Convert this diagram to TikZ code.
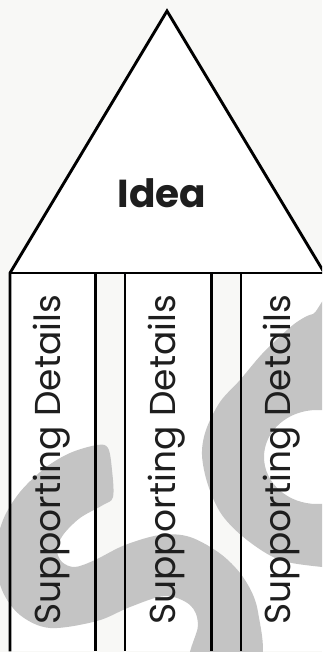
\documentclass[tikz,border=0pt]{standalone}
\usepackage{fontspec}
\setmainfont{Poppins}
\definecolor{bg}{HTML}{F8F8F6}
\definecolor{wm}{HTML}{C4C4C4}
\definecolor{ink}{HTML}{1E1E1E}
\tikzset{
  colfill/.style={fill=white, draw=none, inner sep=0pt, anchor=north west, minimum height=378pt},
  ln/.style={draw=black, line width=2.9pt},
  sd/.style={rotate=90, text=ink, inner sep=0pt, font=\fontsize{36}{36}\selectfont},
  ideatxt/.style={text=ink, inner sep=0pt, font=\bfseries\fontsize{39}{39}\selectfont}
}
\begin{document}
\begin{tikzpicture}[x=1pt,y=-1pt]
\useasboundingbox (0,0) rectangle (322,652);
\fill[bg] (0,0) rectangle (322,652);
\begin{scope}
\clip (0,0) rectangle (322,652);
% fills
\coordinate (apex) at (167,11);
\node[colfill, minimum width=85pt] (c1) at (10,273) {};
\node[colfill, minimum width=86pt] (c2) at (125,273) {};
\node[colfill, minimum width=83pt] (c3) at (241,273) {};
\fill[white] (c1.north west) -- (apex) -- (c3.north east) -- cycle;
% watermark
\fill[wm] plot[smooth cycle, tension=0.55] coordinates {
 (97,445) (70,453) (45,468) (20,492) (3,520) (-5,555) (2,590) (20,615) (50,628)
 (97,621) (130,607) (165,596) (190,605) (198,625) (192,665) (258,665) (258,612)
 (245,580) (222,555) (190,537) (160,535) (125,545) (95,560) (75,567) (62,562)
 (57,550) (63,535) (80,518) (103,505) (113,497) (112,470) (108,448)};
\fill[wm, even odd rule] plot[smooth cycle, tension=0.55] coordinates {
 (313,314) (300,320) (287,330) (262,354) (240,380) (220,402) (206,430) (202,455)
 (208,485) (222,515) (247,540) (280,560) (322,567) (335,567) (335,312)}
 (317,457) ellipse [x radius=53, y radius=47];
% lines
\draw[ln] (c1.south west) -- (c1.north west) -- (apex) -- (c3.north east);
\draw[ln] (c1.north west) -- (c3.north east);
\draw[ln] (c1.north east) -- (c1.south east);
\draw[ln] (c2.north west) -- (c2.south west);
\draw[ln] (c2.north east) -- (c2.south east);
\draw[ln] (c3.north west) -- (c3.south west);
\draw[ln] (c3.north east) -- (c3.south east);
\end{scope}
% texts
\node[ideatxt] (idea) at (162,193) {Idea};
\node[sd] (t1) at (52,460) {Supporting Details};
\node[sd] (t2) at (167,460) {Supporting Details};
\node[sd] (t3) at (282,460) {Supporting Details};
\end{tikzpicture}
\end{document}
